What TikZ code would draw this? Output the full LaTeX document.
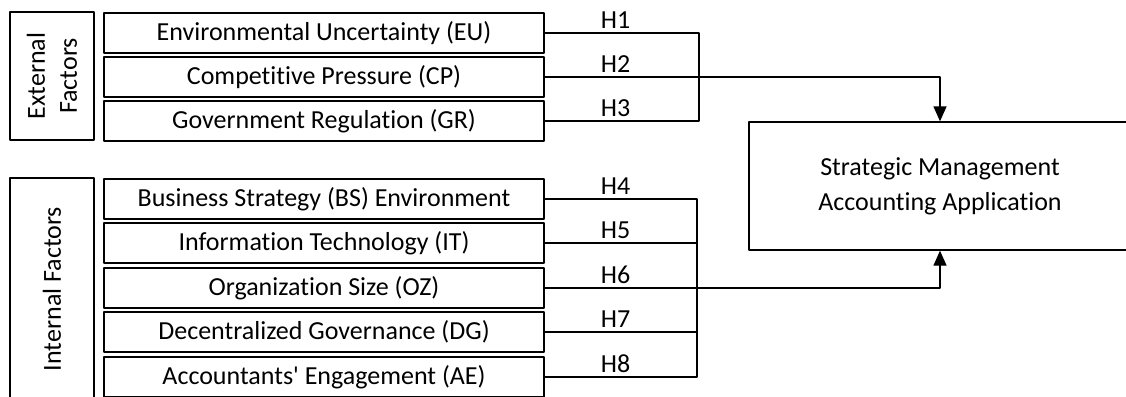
\documentclass[tikz,border=0pt]{standalone}
\usepackage{fontspec}
\setmainfont{Carlito}[Ligatures=CommonOff]
\usetikzlibrary{arrows.meta}
\begin{document}
\begin{tikzpicture}[x=1pt,y=-1pt,line cap=round,line join=round,font=\fontsize{26}{32}\selectfont,
	factor/.style={draw,line width=1.3pt,minimum width=440pt,minimum height=40pt,inner sep=0pt},
	group/.style={draw,line width=2.6pt,rotate=90,align=center,inner sep=0pt,minimum height=84pt},
	hyp/.style={above=4pt,inner sep=0pt},
	link/.style={line width=1.3pt},
	arr/.style={link,-{Triangle[length=15pt,width=13pt]}}]
	\useasboundingbox (0,0) rectangle (1126,396);
	% factor groups
	\node[group,minimum width=128pt] (ext) at (52,76) {External\\Factors};
	\node[group,minimum width=222pt] (int) at (52,289) {Internal Factors};
	\foreach \n/\t/\y in {eu/Environmental Uncertainty (EU)/33,cp/Competitive Pressure (CP)/77,gr/Government Regulation (GR)/121,
		bs/Business Strategy (BS) Environment/199,it/Information Technology (IT)/243,oz/Organization Size (OZ)/288,
		dg/Decentralized Governance (DG)/332,ae/Accountants\textquotesingle{} Engagement (AE)/377}{\node[factor] (\n) at (324,\y) {\t};}
	\node[draw,line width=1.3pt,minimum width=382pt,minimum height=128pt,align=center,inner sep=0pt,
		font=\fontsize{26}{35}\selectfont] (sma) at (940,186) {Strategic Management\\Accounting Application};
	% hypotheses
	\coordinate (ej) at (699,77);
	\coordinate (ij) at (697,288);
	\draw[link] (eu.east) -| (ej) |- (gr.east);
	\draw[arr] (cp.east) -| (sma.north);
	\draw[link] (bs.east) -| (ij) |- (ae.east);
	\foreach \n in {it,dg}{\draw[link] (\n.east) -- (\n.east -| ij);}
	\draw[arr] (oz.east) -| (sma.south);
	\foreach \n/\h in {eu/1,cp/2,gr/3,bs/4,it/5,oz/6,dg/7,ae/8}{\node[hyp] (h\h) at ([xshift=71pt]\n.east) {H\h};}
\end{tikzpicture}
\end{document}
